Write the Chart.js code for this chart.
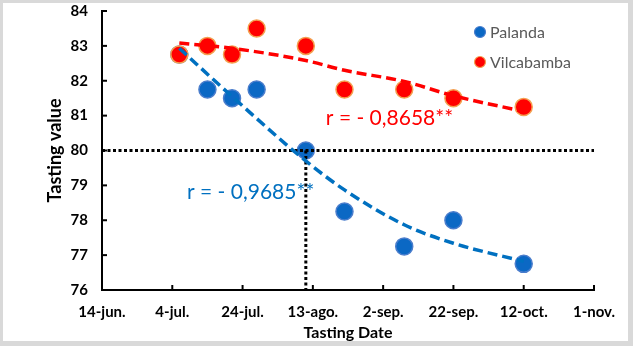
<!DOCTYPE html>
<html>
<head>
<meta charset="utf-8">
<script src="https://cdn.jsdelivr.net/npm/chart.js@4.4.1/dist/chart.umd.min.js"></script>
<style>
  html, body { margin: 0; padding: 0; background: #fff; }
  #wrap { width: 633px; height: 346px; position: relative; }
</style>
</head>
<body>
<div id="wrap"><canvas id="tastingChart"></canvas></div>
<script>
// Data (x = days after 14-jun.)
const tastingDays = [22, 30, 37, 44, 58, 69, 86, 100, 120];
const palanda = [82.75, 81.75, 81.5, 81.75, 80.0, 78.25, 77.25, 78.0, 76.75];
const vilcabamba = [82.75, 83.0, 82.75, 83.5, 83.0, 81.75, 81.75, 81.5, 81.25];

// trend lines
const trendDays = [22, 37, 58, 69, 86, 100, 120];
const palandaTrend = [82.93, 81.55, 79.7, 78.87, 77.87, 77.34, 76.82];
const vilcabambaTrend = [83.08, 82.93, 82.58, 82.3, 81.98, 81.57, 81.12];

const xTickLabels = ['14-jun.', '4-jul.', '24-jul.', '13-ago.', '2-sep.', '22-sep.', '12-oct.', '1-nov.'];
const yTicks = [76, 77, 78, 79, 80, 81, 82, 83, 84];

const refDay = 58;
const refValue = 80;
const palandaR = 'r = - 0,9685**';
const vilcabambaR = 'r = - 0,8658**';

const xMin = 0, xMax = 140, xStep = 20;
const yMin = 76, yMax = 84;

const toPoints = (xs, ys) => xs.map((x, i) => ({ x: x, y: ys[i] }));

const BLUE = '#0B68C4';
const RED = '#FF0000';
const FONT = 'Lato, "Open Sans", sans-serif';

// grey frame round the picture
const framePlugin = {
    id: 'frame',
    beforeDraw(chart) {
        const ctx = chart.ctx;
        ctx.save();
        ctx.fillStyle = '#D9D9D9';
        ctx.fillRect(0, 0, chart.width, chart.height);
        ctx.fillStyle = '#FFFFFF';
        ctx.fillRect(3, 3, chart.width - 8, chart.height - 8);
        ctx.restore();
    }
};

// tick marks pointing into the plot
const innerTicks = {
    id: 'innerTicks',
    afterDatasetsDraw(chart) {
        const { ctx, chartArea, scales } = chart;
        ctx.save();
        ctx.strokeStyle = '#000';
        ctx.lineWidth = 2;
        scales.x.ticks.forEach(t => {
            const px = scales.x.getPixelForValue(t.value);
            ctx.beginPath();
            ctx.moveTo(px, chartArea.bottom);
            ctx.lineTo(px, chartArea.bottom - 5);
            ctx.stroke();
        });
        scales.y.ticks.forEach(t => {
            const py = scales.y.getPixelForValue(t.value);
            ctx.beginPath();
            ctx.moveTo(chartArea.left, py);
            ctx.lineTo(chartArea.left + 5, py);
            ctx.stroke();
        });
        ctx.restore();
    }
};

// r labels and legend
const notes = {
    id: 'notes',
    afterDraw(chart) {
        const { ctx, scales } = chart;
        ctx.save();
        ctx.font = '21px ' + FONT;
        ctx.textBaseline = 'middle';
        ctx.textAlign = 'left';
        ctx.fillStyle = RED;
        ctx.fillText(vilcabambaR, scales.x.getPixelForValue(63.7), scales.y.getPixelForValue(80.93));
        ctx.fillStyle = '#0070C0';
        ctx.fillText(palandaR, scales.x.getPixelForValue(24.2), scales.y.getPixelForValue(78.79));

        // legend
        const items = [
            { label: 'Palanda', fill: BLUE, border: '#4A7DCC' },
            { label: 'Vilcabamba', fill: RED, border: '#F4A050' }
        ];
        ctx.font = '16px ' + FONT;
        items.forEach((it, i) => {
            const cx = 480, cy = 32 + i * 30;
            ctx.beginPath();
            ctx.arc(cx, cy, 5.5, 0, Math.PI * 2);
            ctx.fillStyle = it.fill;
            ctx.fill();
            ctx.lineWidth = 1.2;
            ctx.strokeStyle = it.border;
            ctx.stroke();
            ctx.fillStyle = '#595959';
            ctx.fillText(it.label, 490, cy + 1);
        });
        ctx.restore();
    }
};

const ctx = document.getElementById('tastingChart').getContext('2d');
new Chart(ctx, {
    type: 'scatter',
    data: {
        datasets: [
            {
                label: 'Palanda trend',
                data: toPoints(trendDays, palandaTrend),
                showLine: true,
                borderColor: '#0070C0',
                borderWidth: 3.5,
                borderDash: [10, 5],
                pointRadius: 0,
                cubicInterpolationMode: 'monotone',
                order: 0
            },
            {
                label: 'Vilcabamba trend',
                data: toPoints(trendDays, vilcabambaTrend),
                showLine: true,
                borderColor: RED,
                borderWidth: 3.5,
                borderDash: [10, 5],
                pointRadius: 0,
                cubicInterpolationMode: 'monotone',
                order: 0
            },
            {
                label: 'ref h',
                data: [{ x: xMin, y: refValue }, { x: xMax, y: refValue }],
                showLine: true,
                borderColor: '#000',
                borderWidth: 3,
                borderDash: [3, 2.5],
                pointRadius: 0,
                clip: false,
                order: 0
            },
            {
                label: 'ref v',
                data: [{ x: refDay, y: refValue }, { x: refDay, y: yMin }],
                showLine: true,
                borderColor: '#000',
                borderWidth: 3,
                borderDash: [3, 2.5],
                pointRadius: 0,
                clip: false,
                order: 0
            },
            {
                label: 'Vilcabamba',
                data: toPoints(tastingDays, vilcabamba),
                backgroundColor: RED,
                borderColor: '#F4A050',
                borderWidth: 1.5,
                pointRadius: 8.5,
                order: 1
            },
            {
                label: 'Palanda',
                data: toPoints(tastingDays, palanda),
                backgroundColor: BLUE,
                borderColor: '#4A7DCC',
                borderWidth: 1.5,
                pointRadius: 8.5,
                order: 2
            }
        ]
    },
    options: {
        responsive: true,
        maintainAspectRatio: false,
        animation: false,
        events: [],
        layout: { autoPadding: false, padding: { left: 0, top: 11, right: 39, bottom: 4 } },
        plugins: {
            legend: { display: false },
            tooltip: { enabled: false }
        },
        scales: {
            x: {
                type: 'linear',
                min: xMin,
                max: xMax,
                afterFit: s => { s.height = 52; s.paddingLeft = 0; s.paddingRight = 0; },
                grid: { display: false, drawTicks: false },
                border: { display: true, color: '#000', width: 2 },
                ticks: {
                    stepSize: xStep,
                    padding: 13,
                    color: '#000',
                    font: { family: FONT, size: 15, weight: 'bold' },
                    callback: v => xTickLabels[Math.round(v / xStep)]
                },
                title: {
                    display: true,
                    text: 'Tasting Date',
                    color: '#000',
                    padding: { top: 0, bottom: 0 },
                    font: { family: FONT, size: 16, weight: 'bold' }
                }
            },
            y: {
                min: yMin,
                max: yMax,
                afterFit: s => { s.width = 102; s.paddingTop = 0; s.paddingBottom = 0; },
                afterBuildTicks: s => { s.ticks = yTicks.map(v => ({ value: v })); },
                grid: { display: false, drawTicks: false },
                border: { display: true, color: '#000', width: 2 },
                ticks: {
                    padding: 14,
                    color: '#000',
                    font: { family: FONT, size: 15, weight: 'bold' }
                },
                title: {
                    display: true,
                    text: 'Tasting value',
                    color: '#000',
                    padding: { top: 44, bottom: 0 },
                    font: { family: FONT, size: 18, weight: 'bold' }
                }
            }
        }
    },
    plugins: [framePlugin, innerTicks, notes]
});
</script>
</body>
</html>
